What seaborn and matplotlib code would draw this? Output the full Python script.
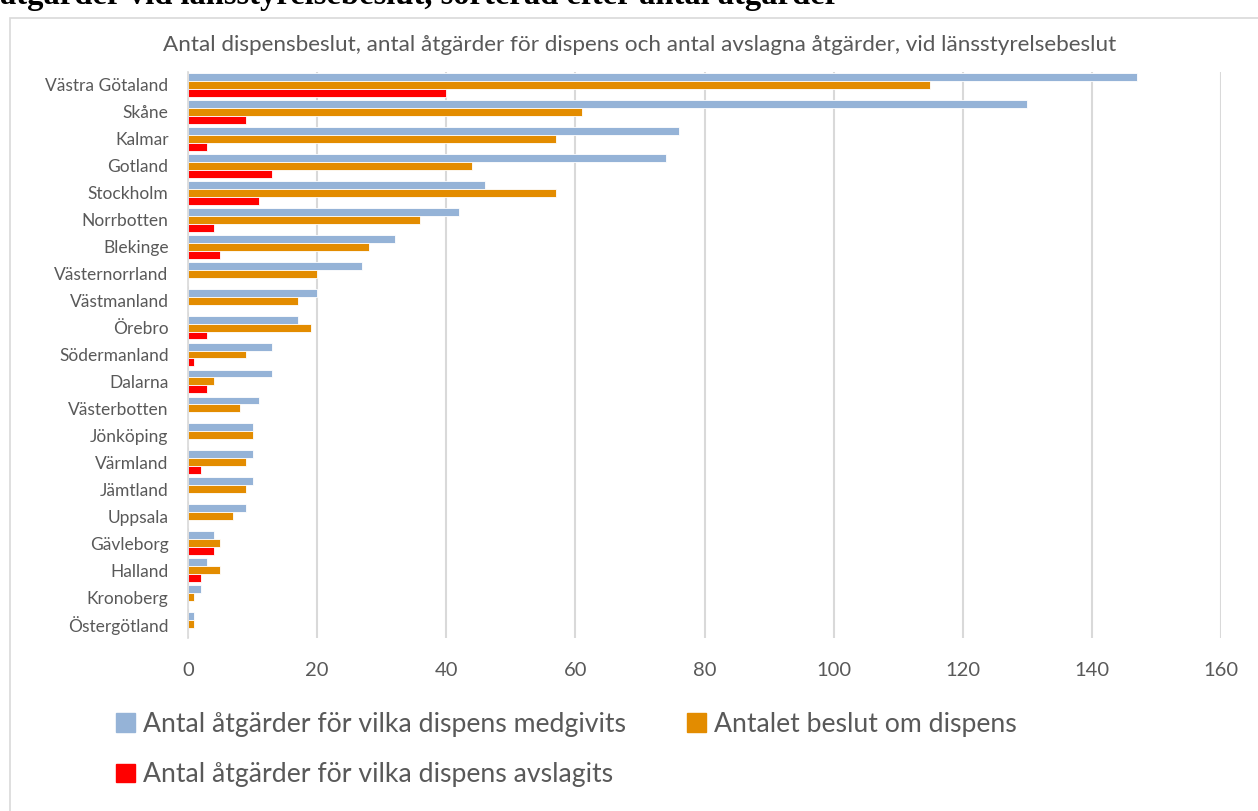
import matplotlib
matplotlib.use("Agg")
import matplotlib.pyplot as plt
import matplotlib.patches as mpatches
import seaborn as sns
import pandas as pd

regions = ["Västra Götaland", "Skåne", "Kalmar", "Gotland", "Stockholm", "Norrbotten",
           "Blekinge", "Västernorrland", "Västmanland", "Örebro", "Södermanland", "Dalarna",
           "Västerbotten", "Jönköping", "Värmland", "Jämtland", "Uppsala", "Gävleborg",
           "Halland", "Kronoberg", "Östergötland"]
medgivits = [147, 130, 76, 74, 46, 42, 32, 27, 20, 17, 13, 13, 11, 10, 10, 10, 9, 4, 3, 2, 1]
beslut = [115, 61, 57, 44, 57, 36, 28, 20, 17, 19, 9, 4, 8, 10, 9, 9, 7, 5, 5, 1, 1]
avslagits = [40, 9, 3, 13, 11, 4, 5, 0, 0, 3, 1, 3, 0, 0, 2, 0, 0, 4, 2, 0, 0]
series_names = ["Antal åtgärder för vilka dispens medgivits",
                "Antalet beslut om dispens",
                "Antal åtgärder för vilka dispens avslagits"]
colors = ["#95B3D7", "#E38C00", "#FF0000"]
xticks = [0, 20, 40, 60, 80, 100, 120, 140, 160]
title = "Antal dispensbeslut, antal åtgärder för dispens och antal avslagna åtgärder, vid länsstyrelsebeslut"
top_text = "åtgärder vid länsstyrelsebeslut, sorterad efter antal åtgärder"

df = pd.DataFrame({
    "region": regions * 3,
    "value": medgivits + beslut + avslagits,
    "serie": [series_names[0]] * len(regions) + [series_names[1]] * len(regions) + [series_names[2]] * len(regions),
})

sns.set_theme(style="white")
plt.rcParams["font.family"] = ["Lato", "DejaVu Sans"]
txt = "#595959"

fig = plt.figure(figsize=(12.58, 8.11), dpi=100)
W, H = 1258, 811
ax = fig.add_axes([188 / W, 1 - 637.5 / H, (1221 - 188) / W, (637.5 - 71.5) / H])

sns.barplot(data=df, y="region", x="value", hue="serie", orient="h",
            palette=colors, saturation=1, width=0.88, ax=ax, order=regions,
            hue_order=series_names, edgecolor="white", linewidth=0.6, legend=False)

ax.set_xlim(0, 160)
ax.set_xticks(xticks)
ax.set_xticklabels([str(t) for t in xticks], fontsize=14.5, color=txt)
ax.tick_params(axis="x", length=0, pad=18)
ax.tick_params(axis="y", length=0, pad=14, labelsize=12.5, labelcolor=txt)
ax.set_xlabel("")
ax.set_ylabel("")
ax.xaxis.grid(True, color="#D9D9D9", linewidth=1.5)
ax.set_axisbelow(True)
for s in ["top", "right", "bottom"]:
    ax.spines[s].set_visible(False)
ax.spines["left"].set_color("#D9D9D9")
ax.spines["left"].set_linewidth(1.2)

fig.text(640 / W, 1 - 45 / H, title, ha="center", va="center", fontsize=16.2, color=txt)
fig.text(0.0, 1 - 4 / H, top_text, ha="left", va="baseline", fontsize=23.5,
         fontweight="bold", family=["Liberation Serif", "DejaVu Serif"], color="black")

fig.patches.append(mpatches.Rectangle((10 / W, -0.01), 1.0, 1 - 18 / H + 0.01,
                                      transform=fig.transFigure, fill=False,
                                      edgecolor="#D9D9D9", linewidth=1.2))

handles = [mpatches.Patch(color=c) for c in colors]
order = [0, 2, 1]
fig.legend([handles[i] for i in order], [series_names[i] for i in order],
           loc="upper left", bbox_to_anchor=(92 / W, 1 - 688 / H), ncol=2,
           frameon=False, fontsize=19.2, labelcolor=txt, handlelength=0.7,
           handleheight=0.7, handletextpad=0.3, columnspacing=2.3, labelspacing=0.95)

fig.savefig("out.png", dpi=100)
